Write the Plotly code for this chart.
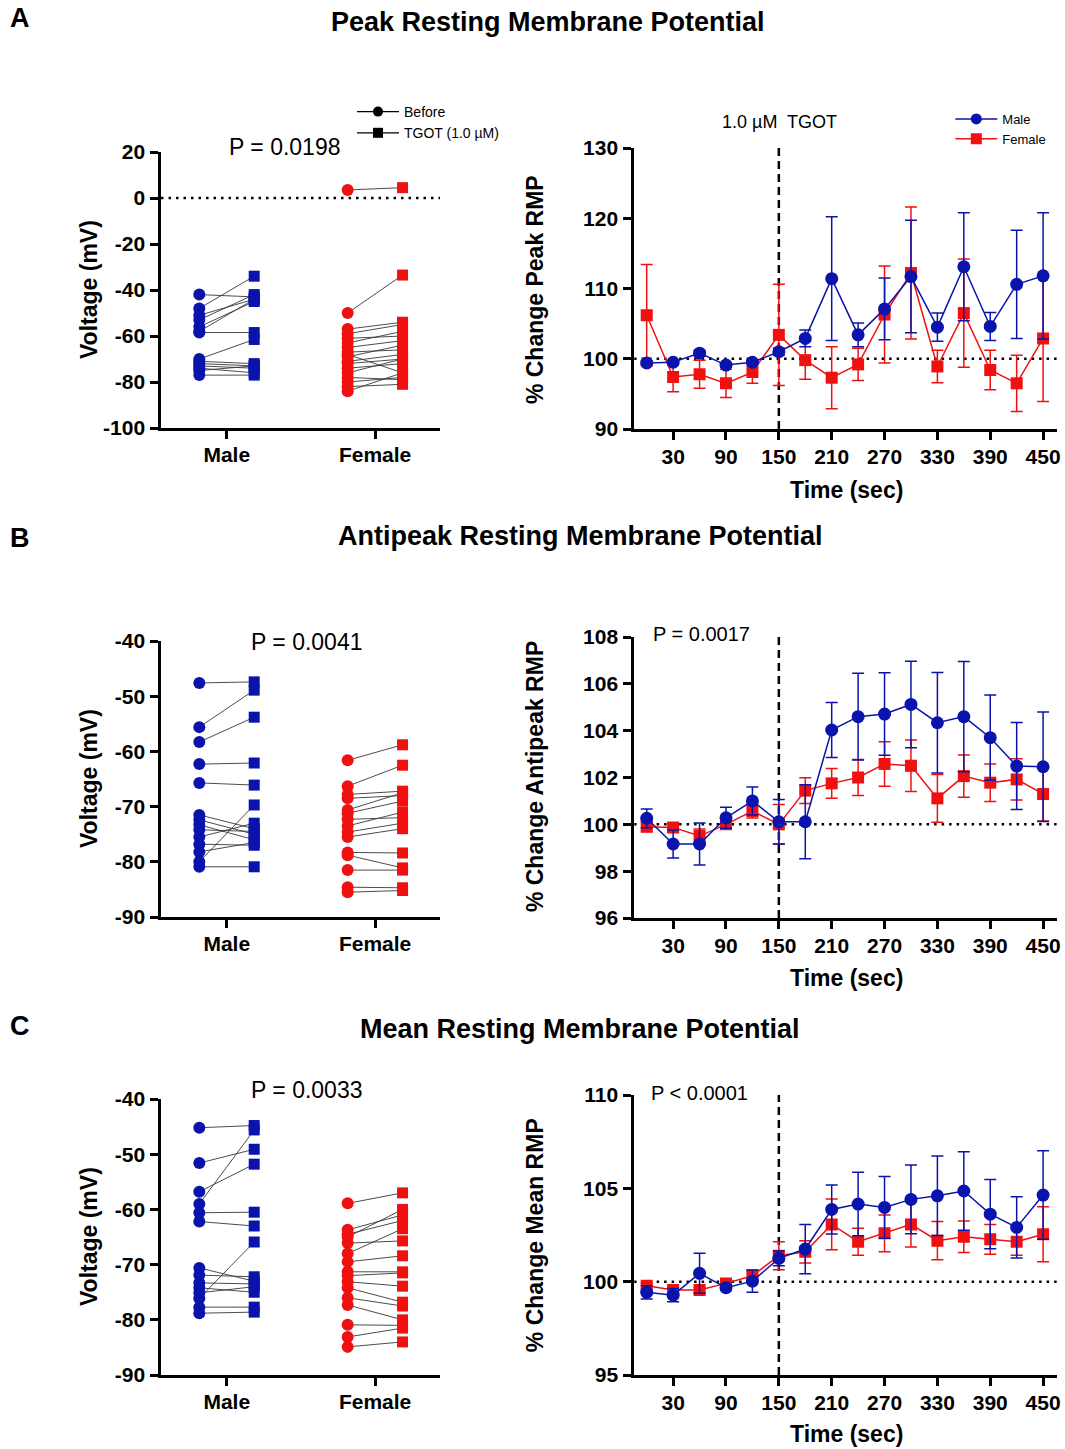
import plotly.graph_objects as go

W, H = 1065, 1449
FONT = "Liberation Sans, Arial, sans-serif"
BLUE = "#0A14AC"
RED = "#F01010"

# ---------------- data ----------------
groups = ["Male", "Female"]
time_s = [0, 30, 60, 90, 120, 150, 180, 210, 240, 270, 300, 330, 360, 390, 420, 450]
time_ticks = [30, 90, 150, 210, 270, 330, 390, 450]

# Panel A (Peak RMP) paired values, mV
a_male_before = [-42, -48, -51, -53, -56, -58, -58.5, -70, -71, -72, -73, -74, -75, -77]
a_male_after = [-43, -34, -44, -42, -45, -44, -58.5, -61.5, -72, -73, -74, -76, -73, -77]
a_fem_before = [3.5, -50, -57, -59, -61, -63, -65, -67, -68, -69, -71, -72, -74, -76, -78, -80, -82, -84]
a_fem_after = [4.5, -33.5, -54, -55, -60, -58, -62, -66, -76, -64, -68, -70, -72, -70, -79, -78, -81, -76]

# Panel B (Antipeak RMP)
b_male_before = [-47.6, -55.6, -58.3, -62.3, -65.7, -71.5, -72.4, -73.3, -74.2, -75.5, -76.8, -78.2, -80.0, -80.9]
b_male_after = [-47.4, -48.9, -53.8, -62.1, -66.1, -74.0, -75.0, -76.0, -74.5, -73.0, -77.0, -76.5, -69.7, -80.9]
b_fem_before = [-61.6, -66.3, -67.8, -68.5, -70.6, -71.2, -72.3, -73.5, -74.6, -75.5, -78.3, -78.8, -81.5, -84.6, -85.5]
b_fem_after = [-58.8, -62.5, -67.2, -68.0, -67.5, -69.0, -72.0, -71.0, -73.0, -74.0, -78.4, -81.1, -81.5, -84.7, -85.2]

# Panel C (Mean RMP)
c_male_before = [-45.2, -51.6, -56.8, -59.0, -60.6, -62.2, -70.6, -71.9, -73.3, -74.2, -75.1, -76.1, -77.7, -78.8]
c_male_after = [-44.8, -49.1, -51.8, -45.6, -60.5, -63.0, -73.0, -72.2, -73.5, -75.0, -74.0, -65.9, -77.7, -78.6]
c_fem_before = [-58.9, -63.7, -64.5, -65.0, -66.1, -68.0, -69.5, -71.3, -72.0, -73.1, -74.2, -76.0, -77.3, -80.9, -83.1, -84.9]
c_fem_after = [-57.0, -61.0, -62.0, -60.0, -65.7, -63.5, -68.4, -71.3, -71.5, -73.9, -76.8, -77.5, -80.0, -81.0, -81.5, -84.0]

# Time courses (% change) mean and SEM
a_male = [99.4, 99.5, 100.8, 99.1, 99.5, 101.0, 102.9, 111.4, 103.4, 107.1, 111.7, 104.5, 113.1, 104.6, 110.6, 111.8]
a_male_err = [0.3, 0.3, 0.4, 0.3, 0.3, 0.5, 1.2, 8.8, 1.7, 4.4, 8.0, 2.0, 7.7, 2.0, 7.7, 9.0]
a_fem = [106.2, 97.4, 97.8, 96.5, 98.1, 103.4, 99.8, 97.3, 99.2, 106.3, 112.2, 98.9, 106.5, 98.4, 96.5, 102.9]
a_fem_err = [7.2, 2.1, 2.0, 2.0, 1.6, 7.2, 2.7, 4.4, 2.3, 6.9, 9.4, 2.3, 7.7, 2.8, 4.0, 9.0]

b_male = [100.26, 99.16, 99.16, 100.28, 101.0, 100.11, 100.11, 104.03, 104.6, 104.71, 105.12, 104.34, 104.6, 103.7, 102.49, 102.46]
b_male_err = [0.4, 0.6, 0.9, 0.45, 0.6, 0.95, 1.58, 1.17, 1.85, 1.76, 1.85, 2.15, 2.35, 1.82, 1.86, 2.34]
b_fem = [99.9, 99.87, 99.5, 100.0, 100.57, 100.0, 101.44, 101.75, 102.0, 102.58, 102.5, 101.11, 102.06, 101.78, 101.92, 101.3]
b_fem_err = [0.2, 0.2, 0.3, 0.2, 0.3, 0.85, 0.55, 0.64, 0.77, 0.95, 1.1, 1.02, 0.9, 0.8, 0.88, 1.16]

c_male = [99.43, 99.28, 100.45, 99.68, 100.03, 101.25, 101.75, 103.87, 104.16, 103.98, 104.41, 104.6, 104.86, 103.62, 102.91, 104.64]
c_male_err = [0.35, 0.35, 1.07, 0.15, 0.6, 0.4, 1.32, 1.31, 1.7, 1.65, 1.84, 2.13, 2.1, 1.86, 1.64, 2.37]
c_fem = [99.78, 99.55, 99.55, 99.91, 100.32, 101.39, 101.6, 103.07, 102.14, 102.59, 103.07, 102.2, 102.41, 102.27, 102.14, 102.54]
c_fem_err = [0.15, 0.15, 0.15, 0.1, 0.3, 0.75, 0.6, 1.36, 0.72, 0.98, 1.21, 1.02, 0.84, 0.8, 0.72, 1.47]

p_left = ["P = 0.0198", "P = 0.0041", "P = 0.0033"]
p_right = [None, "P = 0.0017", "P < 0.0001"]
titles = ["Peak Resting Membrane Potential", "Antipeak Resting Membrane Potential", "Mean Resting Membrane Potential"]
ylab_right = ["% Change Peak RMP", "% Change Antipeak RMP", "% Change Mean RMP"]

# ---------------- layout helpers ----------------
# the captured page maps layout pixels to the picture slightly compressed
# vertically; these factors convert target picture pixels to layout pixels
SX, SY, OY = 0.997, 0.9841, 12.0

def fx(px):
    return (px / SX) / W

def fy(px):
    return 1 - ((px - OY) / SY) / H

fig = go.Figure()

panels = [
    dict(pairs=[(a_male_before, a_male_after), (a_fem_before, a_fem_after)],
         ly=(152, 428), lr=(-100, 20), ldt=20,
         ry=(148, 429), rr=(90, 130), rdt=10,
         tc=[(a_fem, a_fem_err), (a_male, a_male_err)]),
    dict(pairs=[(b_male_before, b_male_after), (b_fem_before, b_fem_after)],
         ly=(641, 917), lr=(-90, -40), ldt=10,
         ry=(637, 918), rr=(96, 108), rdt=2,
         tc=[(b_fem, b_fem_err), (b_male, b_male_err)]),
    dict(pairs=[(c_male_before, c_male_after), (c_fem_before, c_fem_after)],
         ly=(1099, 1375), lr=(-90, -40), ldt=10,
         ry=(1095, 1375), rr=(95, 110), rdt=5,
         tc=[(c_fem, c_fem_err), (c_male, c_male_err)]),
]

LX = (161, 440)
RX = (634, 1057)
XL_RANGE = [0.557, 2.438]
XR_RANGE = [-14.3, 466]
OFF = 0.185

def ticks_for(lo, hi, step):
    vals = []
    v = lo
    while v <= hi + 1e-9:
        vals.append(v)
        v += step
    return vals, [str(int(v)) if float(v).is_integer() else str(v) for v in vals]

axis_common = dict(showline=True, linecolor="black", linewidth=2.5, ticks="outside",
                   ticklen=8, tickwidth=2.5, tickcolor="black", showgrid=False,
                   zeroline=False, fixedrange=True,
                   tickfont=dict(family=FONT, size=21, color="black", weight="bold"))

layout = {}
colors = [BLUE, RED]
for i, p in enumerate(panels):
    li = 2 * i + 1
    ri = 2 * i + 2
    xl, yl = ("x%d" % li if li > 1 else "x"), ("y%d" % li if li > 1 else "y")
    xr, yr = "x%d" % ri, "y%d" % ri
    lv, lt = ticks_for(p["lr"][0], p["lr"][1], p["ldt"])
    rv, rt = ticks_for(p["rr"][0], p["rr"][1], p["rdt"])
    layout["xaxis%d" % li] = dict(axis_common, domain=[fx(LX[0]), fx(LX[1])], range=XL_RANGE,
                                  anchor=yl, tickvals=[1, 2], ticktext=groups, ticklabelstandoff=-2)
    layout["yaxis%d" % li] = dict(axis_common, domain=[fy(p["ly"][1]), fy(p["ly"][0])], range=list(p["lr"]),
                                  anchor=xl, tickvals=lv, ticktext=lt, ticklabelstandoff=1)
    layout["xaxis%d" % ri] = dict(axis_common, domain=[fx(RX[0]), fx(RX[1])], range=XR_RANGE,
                                  anchor=yr, tickvals=time_ticks, ticklabelstandoff=-1)
    layout["yaxis%d" % ri] = dict(axis_common, domain=[fy(p["ry"][1]), fy(p["ry"][0])], range=list(p["rr"]),
                                  anchor=xr, tickvals=rv, ticktext=rt, ticklabelstandoff=1)

    # paired lines and markers
    for g, (before, after) in enumerate(p["pairs"]):
        pos = g + 1
        lx, ly = [], []
        for b, a in zip(before, after):
            lx += [pos - OFF, pos + OFF, None]
            ly += [b, a, None]
        fig.add_trace(go.Scatter(x=lx, y=ly, mode="lines", xaxis=xl, yaxis=yl,
                                 line=dict(color="#383838", width=0.9), showlegend=False, hoverinfo="skip"))
        fig.add_trace(go.Scatter(x=[pos - OFF] * len(before), y=before, mode="markers", xaxis=xl, yaxis=yl,
                                 marker=dict(symbol="circle", size=12, color=colors[g]), showlegend=False))
        fig.add_trace(go.Scatter(x=[pos + OFF] * len(after), y=after, mode="markers", xaxis=xl, yaxis=yl,
                                 marker=dict(symbol="square", size=11, color=colors[g]), showlegend=False))

    # time course: female first, then male on top
    for (vals, err), col, sym, sz in zip(p["tc"], [RED, BLUE], ["square", "circle"], [12, 13]):
        fig.add_trace(go.Scatter(x=time_s, y=vals, mode="lines+markers", xaxis=xr, yaxis=yr,
                                 line=dict(color=col, width=1.5),
                                 marker=dict(symbol=sym, size=sz, color=col),
                                 error_y=dict(type="data", array=err, visible=True, color=col,
                                              thickness=1.5, width=6),
                                 showlegend=False))

    # reference lines
    fig.add_shape(type="line", xref=xr, yref=yr, x0=XR_RANGE[0], x1=XR_RANGE[1], y0=100, y1=100,
                  line=dict(color="black", width=2.5, dash="2.5px,5px"), layer="below")
    fig.add_shape(type="line", xref=xr, yref="%s domain" % yr, x0=150, x1=150, y0=0, y1=1,
                  line=dict(color="black", width=2.5, dash="8px,5px"), layer="below")

# dotted zero line in A left
fig.add_shape(type="line", xref="x", yref="y", x0=XL_RANGE[0], x1=XL_RANGE[1], y0=0, y1=0,
              line=dict(color="black", width=2.5, dash="2.5px,5px"), layer="below")

# legends (dummy traces)
fig.add_trace(go.Scatter(x=[None], y=[None], mode="lines+markers", name="Before",
                         line=dict(color="black", width=1.2), marker=dict(symbol="circle", size=10, color="black"),
                         legend="legend"))
fig.add_trace(go.Scatter(x=[None], y=[None], mode="lines+markers", name="TGOT (1.0 µM)",
                         line=dict(color="black", width=1.2), marker=dict(symbol="square", size=10, color="black"),
                         legend="legend"))
fig.add_trace(go.Scatter(x=[None], y=[None], mode="lines+markers", name="Male", xaxis="x2", yaxis="y2",
                         line=dict(color=BLUE, width=1.5), marker=dict(symbol="circle", size=11, color=BLUE),
                         legend="legend2"))
fig.add_trace(go.Scatter(x=[None], y=[None], mode="lines+markers", name="Female", xaxis="x2", yaxis="y2",
                         line=dict(color=RED, width=1.5), marker=dict(symbol="square", size=11, color=RED),
                         legend="legend2"))

ann = []
def text(x, y, s, size, bold=False, angle=0, xanchor="center"):
    ann.append(dict(x=fx(x), y=fy(y), xref="paper", yref="paper", text=s, showarrow=False,
                    xanchor=xanchor, yanchor="middle", textangle=angle,
                    font=dict(family=FONT, size=size, color="black", weight="bold" if bold else "normal")))

for letter, yy in zip(["A", "B", "C"], [18, 538, 1026]):
    text(20, yy, letter, 27, bold=True)
text(548, 22, titles[0], 27, bold=True)
text(580, 536, titles[1], 27, bold=True)
text(580, 1029, titles[2], 27, bold=True)

for yy in [290, 779, 1237]:
    text(89, yy, "Voltage (mV)", 23, bold=True, angle=-90)
for lab, yy in zip(ylab_right, [290, 777, 1235]):
    text(535, yy, lab, 23, bold=True, angle=-90)
for yy in [490, 978, 1434]:
    text(846, yy, "Time (sec)", 23, bold=True)

text(285, 147, p_left[0], 23)
text(307, 642, p_left[1], 23)
text(307, 1090, p_left[2], 23)
text(651, 634, p_right[1], 20, xanchor="left")
text(649, 1093, p_right[2], 20, xanchor="left")
text(779, 122, "1.0 µM  TGOT", 18)

layout.update(dict(
    width=W, height=H, autosize=False,
    margin=dict(l=0, r=0, t=0, b=0),
    paper_bgcolor="white", plot_bgcolor="white",
    font=dict(family=FONT, color="black"),
    annotations=ann,
    legend=dict(x=353 / W, y=fy(96), xanchor="left", yanchor="top", bgcolor="rgba(0,0,0,0)",
                font=dict(family=FONT, size=14, color="black"), tracegroupgap=0, itemwidth=42),
    legend2=dict(x=953 / W, y=fy(104), xanchor="left", yanchor="top", bgcolor="rgba(0,0,0,0)",
                 font=dict(family=FONT, size=13, color="black"), tracegroupgap=0, itemwidth=42),
))
fig.update_layout(**layout)
fig.write_html("out.html")
